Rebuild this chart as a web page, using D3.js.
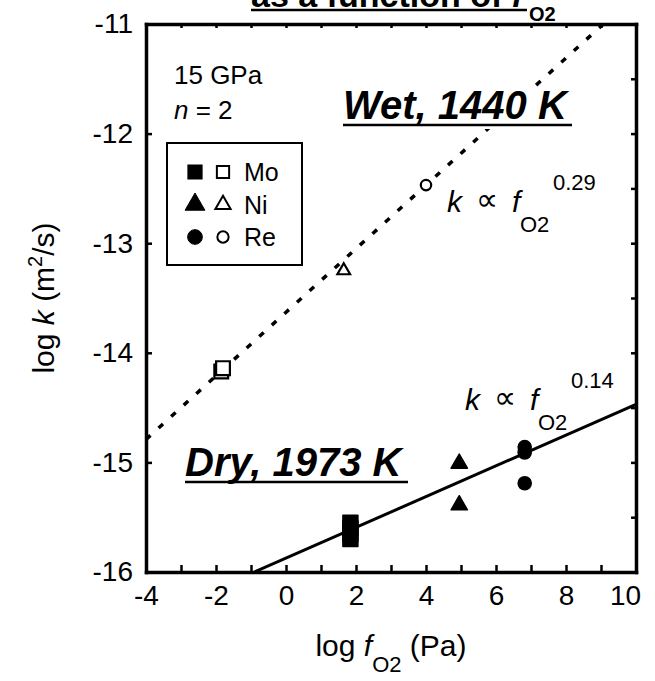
<!DOCTYPE html>
<html>
<head>
<meta charset="utf-8">
<script src="https://cdn.jsdelivr.net/npm/d3@7"></script>
<style>
  body { margin: 0; background: #fff; }
  text { font-family: "Liberation Sans", Arial, sans-serif; fill: #000; }
</style>
</head>
<body>
<div id="chart"></div>
<script>
// rate constant vs oxygen fugacity, 15 GPa, n = 2

// axis ticks
var xTicks = [-4, -3, -2, -1, 0, 1, 2, 3, 4, 5, 6, 7, 8, 9, 10];
var xLabels = [-4, -2, 0, 2, 4, 6, 8, 10];
var yTicks = [-16, -15, -14, -13, -12, -11];

// wet runs, 1440 K (open symbols)
var wetMetal = ["Mo", "Mo", "Ni", "Re"];
var wetLogF = [-1.85, -1.8, 1.65, 4.0];
var wetLogK = [-14.17, -14.14, -13.25, -12.47];

// dry runs, 1973 K (filled symbols)
var dryMetal = ["Mo", "Mo", "Mo", "Mo", "Ni", "Ni", "Re", "Re", "Re"];
var dryLogF = [1.84, 1.84, 1.84, 1.84, 4.95, 4.95, 6.82, 6.82, 6.82];
var dryLogK = [-15.55, -15.6, -15.65, -15.7, -15.01, -15.39, -14.86, -14.91, -15.19];

// fitted lines (log f, log k)
var wetFit = [[-4, -14.79], [9.07, -11]];
var dryFit = [[-0.9, -16], [10, -14.47]];

var legendRows = ["Mo", "Ni", "Re"];

var width = 655, height = 681;
var svg = d3.select("#chart").append("svg")
    .attr("width", width)
    .attr("height", height);

var x = d3.scaleLinear().domain([-4, 10]).range([146, 636]);
var y = d3.scaleLinear().domain([-16, -11]).range([572, 24]);

var symbolType = { Mo: d3.symbolSquare, Ni: d3.symbolTriangle, Re: d3.symbolCircle };
var drySize = { Mo: 225, Ni: 115, Re: 135 };
var wetSize = { Mo: 190, Ni: 70, Re: 85 };

// title (cut off at top)
var title = svg.append("text")
    .attr("x", 251)
    .attr("y", 7)
    .style("font-size", "34px")
    .style("font-weight", "bold");
title.append("tspan").text("as a function of ");
title.append("tspan").style("font-style", "italic").text("f");
svg.append("line")
    .attr("x1", 251).attr("x2", 527)
    .attr("y1", 10).attr("y2", 10)
    .attr("stroke", "#000").attr("stroke-width", 2.5);
svg.append("text")
    .attr("x", 529).attr("y", 21)
    .style("font-size", "20px")
    .style("font-weight", "bold")
    .text("O2");

// axes
var fmt = function(d) { return String(d); };

var axBottom = svg.append("g")
    .attr("transform", "translate(0," + y(-16) + ")")
    .call(d3.axisBottom(x).tickValues(xTicks).tickSizeInner(-7).tickSizeOuter(0).tickPadding(13)
        .tickFormat(function(d) { return xLabels.indexOf(d) >= 0 ? fmt(d) : ""; }));

var axLeft = svg.append("g")
    .attr("transform", "translate(" + x(-4) + ",0)")
    .call(d3.axisLeft(y).tickValues(yTicks).tickSizeInner(-6).tickSizeOuter(0).tickPadding(13)
        .tickFormat(fmt));

var axTop = svg.append("g")
    .attr("transform", "translate(0," + y(-11) + ")")
    .call(d3.axisTop(x).tickValues(xTicks).tickSizeInner(-4).tickSizeOuter(0).tickFormat(""));

var axRight = svg.append("g")
    .attr("transform", "translate(" + x(10) + ",0)")
    .call(d3.axisRight(y).tickValues(d3.range(-16, -10.9, 0.5)).tickSizeInner(-5).tickSizeOuter(0).tickFormat(""));

[axBottom, axLeft, axTop, axRight].forEach(function(a) {
    a.select(".domain").attr("stroke-width", 3.5).attr("stroke-linecap", "square");
    a.selectAll(".tick line").attr("stroke-width", 2.5);
    a.selectAll(".tick text")
        .style("font-family", "'Liberation Sans', Arial, sans-serif")
        .style("font-size", "28px");
});
// last x label is pulled in so it stays on the page
axBottom.selectAll(".tick text").filter(function(d) { return d == 10; }).attr("x", -11);

// axis titles
var xt = svg.append("text")
    .attr("x", 391).attr("y", 656)
    .attr("text-anchor", "middle")
    .style("font-size", "30px");
xt.append("tspan").text("log ");
xt.append("tspan").style("font-style", "italic").text("f");
xt.append("tspan").attr("dy", 16).style("font-size", "22px").text("O2");
xt.append("tspan").attr("dy", -16).text(" (Pa)");

var yt = svg.append("text")
    .attr("transform", "translate(54," + y(-13.5) + ") rotate(-90)")
    .attr("text-anchor", "middle")
    .style("font-size", "30px");
yt.append("tspan").text("log ");
yt.append("tspan").style("font-style", "italic").text("k");
yt.append("tspan").text(" (m");
yt.append("tspan").attr("dy", -12).style("font-size", "20px").text("2");
yt.append("tspan").attr("dy", 12).text("/s)");

// fit lines
var line = d3.line()
    .x(function(d) { return x(d[0]); })
    .y(function(d) { return y(d[1]); });

svg.append("path")
    .attr("d", line(wetFit))
    .attr("fill", "none")
    .attr("stroke", "#000")
    .attr("stroke-width", 3.5)
    .attr("stroke-dasharray", "6,11");

svg.append("path")
    .attr("d", line(dryFit))
    .attr("fill", "none")
    .attr("stroke", "#000")
    .attr("stroke-width", 3);

// points
svg.selectAll("path.wet")
    .data(wetMetal)
    .enter().append("path")
    .attr("class", "wet")
    .attr("transform", function(d, i) { return "translate(" + x(wetLogF[i]) + "," + y(wetLogK[i]) + ")"; })
    .attr("d", function(d) { return d3.symbol().type(symbolType[d]).size(wetSize[d])(); })
    .attr("fill", "#fff")
    .attr("stroke", "#000")
    .attr("stroke-width", 2.2);

svg.selectAll("path.dry")
    .data(dryMetal)
    .enter().append("path")
    .attr("class", "dry")
    .attr("transform", function(d, i) { return "translate(" + x(dryLogF[i]) + "," + y(dryLogK[i]) + ")"; })
    .attr("d", function(d) { return d3.symbol().type(symbolType[d]).size(drySize[d])(); })
    .attr("fill", "#000")
    .attr("stroke", "#000")
    .attr("stroke-width", 1.5)
    .attr("stroke-linejoin", "round");

// labels
svg.append("text").attr("x", 174).attr("y", 84).style("font-size", "26px").text("15 GPa");
var nl = svg.append("text").attr("x", 174).attr("y", 119).style("font-size", "26px");
nl.append("tspan").style("font-style", "italic").text("n");
nl.append("tspan").text(" = 2");

function bigLabel(txt, x0, y0, len, mask) {
    if (mask) {
        svg.append("rect")
            .attr("x", x0 - 2).attr("y", y0 - 32)
            .attr("width", len + 6).attr("height", 42)
            .attr("fill", "#fff");
    }
    svg.append("text")
        .attr("x", x0).attr("y", y0)
        .style("font-size", "40px")
        .style("font-weight", "bold")
        .style("font-style", "italic")
        .text(txt);
    svg.append("line")
        .attr("x1", x0).attr("x2", x0 + len)
        .attr("y1", y0 + 6).attr("y2", y0 + 6)
        .attr("stroke", "#000").attr("stroke-width", 2.5);
}
bigLabel("Wet, 1440 K", 343, 119, 229, true);
bigLabel("Dry, 1973 K", 185, 476, 223, false);

function propLabel(x0, y0, expo) {
    svg.append("text").attr("x", x0).attr("y", y0).style("font-size", "30px")
        .style("font-style", "italic").text("k");
    svg.append("text").attr("x", x0 + 40).attr("y", y0 - 2)
        .attr("text-anchor", "middle")
        .style("font-family", "'DejaVu Sans', sans-serif")
        .style("font-size", "31px").text("\u221D");
    svg.append("text").attr("x", x0 + 65).attr("y", y0).style("font-size", "30px")
        .style("font-style", "italic").text("f");
    svg.append("text").attr("x", x0 + 73).attr("y", y0 + 20).style("font-size", "22px").text("O2");
    svg.append("text").attr("x", x0 + 106).attr("y", y0 - 22).style("font-size", "22px").text(expo);
}
propLabel(447, 212, "0.29");
propLabel(465, 410, "0.14");

// legend
var lg = svg.append("g");
lg.append("rect")
    .attr("x", 167).attr("y", 143)
    .attr("width", 135).attr("height", 122)
    .attr("fill", "#fff")
    .attr("stroke", "#000")
    .attr("stroke-width", 2);

legendRows.forEach(function(m, i) {
    var yy = 172 + i * 32.5;
    lg.append("path")
        .attr("transform", "translate(195," + yy + ")")
        .attr("d", d3.symbol().type(symbolType[m]).size(m == "Mo" ? 150 : 170)())
        .attr("fill", "#000").attr("stroke", "#000").attr("stroke-width", m == "Mo" ? 3 : 1);
    lg.append("path")
        .attr("transform", "translate(223," + yy + ")")
        .attr("d", d3.symbol().type(symbolType[m]).size(m == "Mo" ? 150 : 100)())
        .attr("fill", "#fff").attr("stroke", "#000").attr("stroke-width", 2);
    lg.append("text")
        .attr("x", 244).attr("y", yy + 9)
        .style("font-size", "25px")
        .text(m);
});
</script>
</body>
</html>
